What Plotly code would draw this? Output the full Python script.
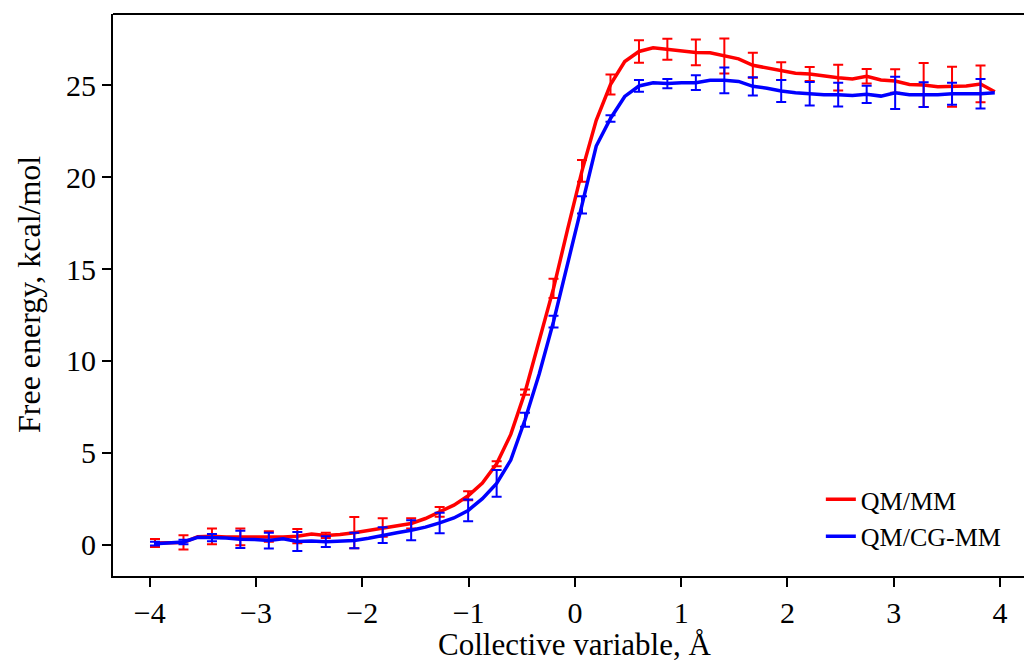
import plotly.graph_objects as go

# collective variable grid (60 bins)
cv = [-3.950, -3.816, -3.682, -3.548, -3.414, -3.281, -3.147, -3.013, -2.879, -2.745,
      -2.611, -2.477, -2.343, -2.209, -2.075, -1.941, -1.808, -1.674, -1.540, -1.406,
      -1.272, -1.138, -1.004, -0.870, -0.736, -0.603, -0.469, -0.335, -0.201, -0.067,
      0.067, 0.201, 0.335, 0.469, 0.603, 0.736, 0.870, 1.004, 1.138, 1.272,
      1.406, 1.540, 1.674, 1.808, 1.941, 2.075, 2.209, 2.343, 2.477, 2.611,
      2.745, 2.879, 3.013, 3.147, 3.281, 3.414, 3.548, 3.682, 3.816, 3.950]

qmmm = [0.09, 0.10, 0.12, 0.43, 0.45, 0.42, 0.42, 0.40, 0.44, 0.42,
        0.46, 0.58, 0.50, 0.55, 0.65, 0.78, 0.93, 1.03, 1.15, 1.42,
        1.78, 2.15, 2.66, 3.35, 4.40, 6.00, 8.30, 11.10, 13.95, 17.20,
        20.35, 23.10, 25.05, 26.30, 26.85, 27.05, 26.97, 26.90, 26.80, 26.78,
        26.60, 26.45, 26.10, 25.95, 25.78, 25.66, 25.62, 25.50, 25.42, 25.35,
        25.50, 25.30, 25.24, 25.05, 25.02, 24.93, 24.93, 24.97, 25.08, 24.66]

qmcgmm = [0.05, 0.08, 0.14, 0.40, 0.38, 0.36, 0.29, 0.28, 0.22, 0.32,
          0.17, 0.20, 0.16, 0.17, 0.22, 0.35, 0.52, 0.65, 0.78, 0.95,
          1.18, 1.45, 1.86, 2.50, 3.33, 4.60, 6.80, 9.30, 12.14, 15.40,
          18.50, 21.70, 23.20, 24.40, 24.97, 25.15, 25.10, 25.15, 25.15, 25.28,
          25.28, 25.22, 24.95, 24.85, 24.70, 24.60, 24.55, 24.50, 24.50, 24.45,
          24.52, 24.42, 24.60, 24.50, 24.50, 24.50, 24.55, 24.55, 24.55, 24.60]

# error bars are shown on every second bin
qmmm_err = [0.22, 0.39, 0.43, 0.45, 0.29, 0.39, 0.14, 0.85, 0.50, 0.28,
            0.27, 0.25, 0.14, 0.14, 0.53, 0.59, 0.54, 0.61, 0.57, 0.70,
            0.95, 0.68, 0.48, 0.38, 0.70, 0.39, 0.64, 1.20, 1.09, 1.00]
qmcgmm_err = [0.10, 0.12, 0.20, 0.47, 0.43, 0.52, 0.29, 0.42, 0.43, 0.55,
              0.56, 0.59, 0.73, 0.38, 0.32, 0.47, 0.18, 0.32, 0.25, 0.40,
              0.70, 0.50, 0.60, 0.64, 0.65, 0.47, 0.88, 0.68, 0.60, 0.80]

series = [
	('QM/MM', qmmm, qmmm_err, '#ff0000'),
	('QM/CG-MM', qmcgmm, qmcgmm_err, '#0000ff'),
]

FONT = 'Liberation Serif, Times New Roman, serif'

fig = go.Figure()
for name, y, err, color in series:
	fig.add_trace(go.Scatter(
		x = cv,
		y = y,
		mode = 'lines',
		name = name,
		line = dict(color=color, width=3.5),
	))
	fig.add_trace(go.Scatter(
		x = cv[::2],
		y = y[::2],
		mode = 'markers',
		marker = dict(size=1, opacity=0, color=color),
		error_y = dict(type='data', array=err, color=color, thickness=2, width=5),
		showlegend = False,
		hoverinfo = 'skip',
	))

axis_common = dict(
	showgrid = False,
	zeroline = False,
	showline = True,
	linecolor = 'black',
	linewidth = 1.8,
	ticks = 'outside',
	ticklen = 9,
	tickwidth = 1.8,
	tickcolor = 'black',
	tickfont = dict(family=FONT, size=30, color='black'),
)
fig.update_xaxes(range=[-4.345, 4.225], tickvals=[-4, -3, -2, -1, 0, 1, 2, 3, 4],
	ticktext=['\u22124', '\u22123', '\u22122', '\u22121', '0', '1', '2', '3', '4'], **axis_common)
fig.update_yaxes(range=[-1.71, 28.89], tickvals=[0, 5, 10, 15, 20, 25], **axis_common)

# top frame line (right side of the original frame is cropped off)
fig.add_shape(type='line', xref='paper', yref='paper', x0=0, x1=1, y0=1, y1=1,
	line=dict(color='black', width=1.8))

fig.add_annotation(text='Collective variable, \u00c5', xref='paper', yref='paper',
	x=(574.5-113)/911, y=-0.088, yanchor='top', showarrow=False,
	font=dict(family=FONT, size=31, color='black'))
fig.add_annotation(text='Free energy, kcal/mol', xref='paper', yref='paper',
	x=(29-113)/911, y=0.5, textangle=-90, xanchor='center', showarrow=False,
	font=dict(family=FONT, size=32, color='black'))

fig.update_layout(
	width = 1024,
	height = 660,
	margin = dict(l=113, r=0, t=14, b=84),
	paper_bgcolor = 'white',
	plot_bgcolor = 'white',
	legend = dict(
		x = 0.777, y = 0.178, xanchor = 'left', yanchor = 'top',
		font = dict(family=FONT, size=26, color='black'),
		bgcolor = 'rgba(0,0,0,0)',
	),
)

# drop the browser's default page margin so the figure sits at the top-left corner
fig.write_html('out.html', config={'displayModeBar': False},
	post_script="document.body.style.margin='0';")
